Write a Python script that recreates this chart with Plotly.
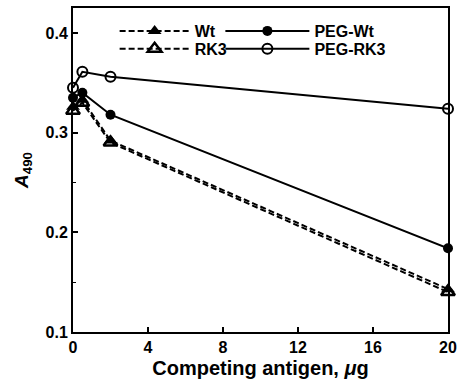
import plotly.graph_objects as go

x_vals = [0, 0.5, 2, 20]
wt = [0.326, 0.333, 0.292, 0.143]
rk3 = [0.322, 0.330, 0.290, 0.140]
peg_wt = [0.335, 0.340, 0.318, 0.184]
peg_rk3 = [0.345, 0.361, 0.356, 0.324]

x_ticks = [0, 4, 8, 12, 16, 20]
y_ticks = [0.1, 0.2, 0.3, 0.4]

FONT = "Liberation Sans"
DASH = "6px,3px"

fig = go.Figure()
fig.add_trace(go.Scatter(x=x_vals, y=wt, name="<b>Wt</b>", mode="lines+markers", legend="legend",
                         line=dict(color="black", width=2, dash=DASH),
                         marker=dict(symbol="triangle-up", size=12, color="black")))
fig.add_trace(go.Scatter(x=x_vals, y=peg_wt, name="<b>PEG-Wt</b>", mode="lines+markers", legend="legend2",
                         line=dict(color="black", width=2),
                         marker=dict(symbol="circle", size=10, color="black")))
fig.add_trace(go.Scatter(x=x_vals, y=rk3, name="<b>RK3</b>", mode="lines+markers", legend="legend3",
                         line=dict(color="black", width=2, dash=DASH),
                         marker=dict(symbol="triangle-up-open", size=12, color="black",
                                     line=dict(width=2.5))))
fig.add_trace(go.Scatter(x=x_vals, y=peg_rk3, name="<b>PEG-RK3</b>", mode="lines+markers", legend="legend4",
                         line=dict(color="black", width=2),
                         marker=dict(symbol="circle-open", size=10, color="black",
                                     line=dict(width=2))))
fig.update_traces(cliponaxis=False)

def leg(x, y, iw):
    return dict(x=x, y=y, xanchor="left", yanchor="middle", itemwidth=iw,
                bgcolor="rgba(0,0,0,0)", orientation="h",
                font=dict(family=FONT, size=16, color="black"))

fig.update_layout(
    width=463, height=392,
    margin=dict(l=73, r=13, t=6, b=60),
    paper_bgcolor="white", plot_bgcolor="white",
    font=dict(family=FONT, color="black", size=16),
    legend=leg(0.111, 0.929, 70),
    legend2=leg(0.393, 0.929, 84),
    legend3=leg(0.111, 0.874, 70),
    legend4=leg(0.393, 0.874, 84),
    showlegend=True,
)
fig.update_xaxes(range=[0, 20], tickvals=x_ticks, ticktext=[f"<b>{v}</b>" for v in x_ticks],
                 ticks="inside", ticklen=5, tickwidth=1.5, tickcolor="black",
                 showline=True, linecolor="black", linewidth=2, mirror=True,
                 showgrid=False, zeroline=False,
                 tickfont=dict(family=FONT, size=16),
                 title=dict(text="<b>Competing antigen, <i>μ</i>g</b>",
                            font=dict(family=FONT, size=20), standoff=6))
fig.update_yaxes(range=[0.1, 0.425], tickvals=y_ticks, ticktext=[f"<b>{v}</b>" for v in y_ticks],
                 ticks="inside", ticklen=5, tickwidth=1.5, tickcolor="black",
                 minor=dict(tickvals=[0.15, 0.25, 0.35], ticks="inside", ticklen=3,
                            tickcolor="black", tickwidth=1),
                 showline=True, linecolor="black", linewidth=2, mirror=True,
                 showgrid=False, zeroline=False,
                 tickfont=dict(family=FONT, size=16),
                 title=dict(text="<b><i>A</i><sub>490</sub></b>",
                            font=dict(family=FONT, size=19), standoff=12))

fig.write_html("out.html", config={"displayModeBar": False},
               post_script="document.body.style.margin='0';")
